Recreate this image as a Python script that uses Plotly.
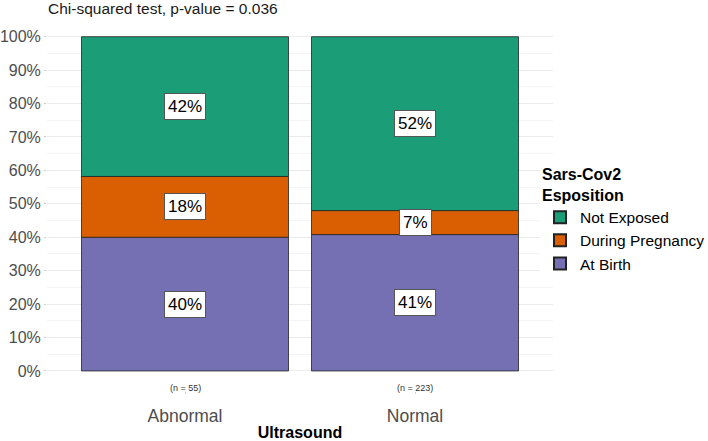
import plotly.graph_objects as go

categories = ["Abnormal", "Normal"]
groups = ["At Birth", "During Pregnancy", "Not Exposed"]
counts_at_birth = [22, 91]
counts_pregnancy = [10, 16]
counts_not_exposed = [23, 116]
colors = {"At Birth": "#7570b3", "During Pregnancy": "#d95f02", "Not Exposed": "#1b9e77"}
title_text = "Chi-squared test, p-value = 0.036"
y_ticks = [0, 0.1, 0.2, 0.3, 0.4, 0.5, 0.6, 0.7, 0.8, 0.9, 1.0]
y_ticklabels = ["0%", "10%", "20%", "30%", "40%", "50%", "60%", "70%", "80%", "90%", "100%"]

series = {"At Birth": counts_at_birth, "During Pregnancy": counts_pregnancy, "Not Exposed": counts_not_exposed}
totals = [sum(v[i] for v in series.values()) for i in range(len(categories))]

FONT = "Liberation Sans, Arial, sans-serif"
fig = go.Figure()
xpos = [1, 2]
annotations = []
base = [0.0] * len(categories)
for g in groups:
    props = [c / t for c, t in zip(series[g], totals)]
    fig.add_trace(go.Bar(
        x=xpos, y=props, base=base[:], name=g, width=0.9,
        marker=dict(color=colors[g], line=dict(color="#222222", width=0.8)),
        hoverinfo="skip",
    ))
    for i, p in enumerate(props):
        annotations.append(dict(
            x=xpos[i], y=base[i] + p / 2, xref="x", yref="y",
            text=f"{round(p * 100)}%", showarrow=False,
            font=dict(family=FONT, size=17, color="black"),
            bgcolor="white", bordercolor="#555555", borderwidth=1, borderpad=3,
        ))
    base = [b + p for b, p in zip(base, props)]

for i, t in enumerate(totals):
    annotations.append(dict(
        x=xpos[i], y=-0.05, xref="x", yref="y", text=f"(n = {t})", showarrow=False,
        font=dict(family=FONT, size=9, color="#333333"),
    ))

fig.update_layout(
    width=708, height=441,
    margin=dict(l=47, r=155, t=20, b=50, autoexpand=False),
    plot_bgcolor="white", paper_bgcolor="white",
    barmode="overlay",
    font=dict(family=FONT, color="#4d4d4d"),
    title=dict(text=title_text, x=48 / 708, xref="container", xanchor="left",
               y=1 - 9 / 441, yref="container", yanchor="middle",
               font=dict(family=FONT, size=15.5, color="#1a1a1a")),
    showlegend=True,
    legend=dict(
        title=dict(text="<b>Sars-Cov2<br>Esposition</b>", font=dict(size=16, color="black")),
        traceorder="reversed", xref="container", yref="container",
        x=540 / 708, xanchor="left", y=1 - 159 / 441, yanchor="top",
        font=dict(size=15.5, color="black"), itemsizing="constant",
        tracegroupgap=0, itemwidth=30,
    ),
    xaxis=dict(
        range=[0.4, 2.6], tickvals=xpos, ticktext=categories, showgrid=False,
        zeroline=False, tickfont=dict(size=17.5, color="#4d4d4d"), automargin=False,
        ticks="outside", ticklen=2, tickcolor="#cccccc", ticklabelstandoff=7,
        title=dict(text="<b>Ultrasound</b>", font=dict(size=16, color="black"), standoff=3),
    ),
    yaxis=dict(
        range=[-0.06, 1.05], tickvals=y_ticks, ticktext=y_ticklabels, automargin=False,
        showgrid=True, gridcolor="#ebebeb", gridwidth=1, zeroline=False,
        tickfont=dict(size=16, color="#4d4d4d"), ticks="outside", ticklen=2, tickcolor="#cccccc",
        minor=dict(tickvals=[0.05 + 0.1 * k for k in range(10)], showgrid=True, gridcolor="#f4f4f4", gridwidth=1),
    ),
    annotations=annotations,
)
fig.write_html("out.html", config={"displayModeBar": False},
               post_script="document.body.style.margin='0';")
